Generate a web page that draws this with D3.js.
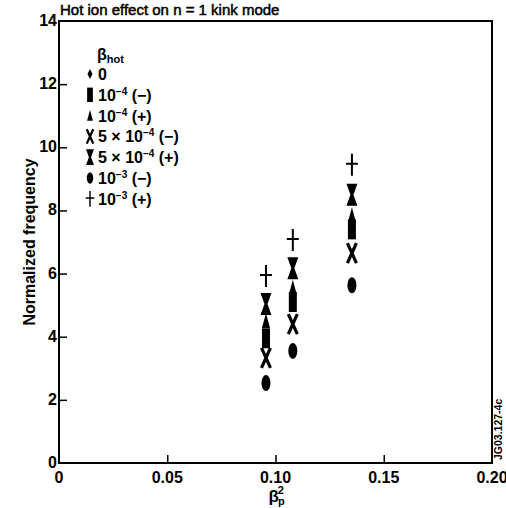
<!DOCTYPE html>
<html>
<head>
<meta charset="utf-8">
<script src="https://cdn.jsdelivr.net/npm/d3@7/dist/d3.min.js"></script>
<style>
  body { margin: 0; background: #fff; }
  text { font-family: "Liberation Sans", Arial, sans-serif; fill: #000; }
</style>
</head>
<body>
<div id="chart"></div>
<script>
// beta_p^2 positions of the three runs
var betaP2 = [0.0956, 0.108, 0.1353];

// normalized frequency for each beta_hot case
var freqZero = [3.95, 5.1, 7.4];
var freqE4Minus = [3.95, 5.1, 7.4];
var freqE4Plus = [4.5, 5.55, 7.85];
var freq5E4Minus = [3.33, 4.4, 6.65];
var freq5E4Plus = [5.04, 6.17, 8.5];
var freqE3Minus = [2.53, 3.55, 5.63];
var freqE3Plus = [5.92, 7.06, 9.45];

var xTicks = [0, 0.05, 0.10, 0.15, 0.20];
var xTickLabels = ["0", "0.05", "0.10", "0.15", "0.20"];
var yTicks = [0, 2, 4, 6, 8, 10, 12, 14];

var seriesNames = ["0", "10-4(-)", "10-4(+)", "5x10-4(-)", "5x10-4(+)", "10-3(-)", "10-3(+)"];
var seriesValues = [freqZero, freqE4Minus, freqE4Plus, freq5E4Minus, freq5E4Plus, freqE3Minus, freqE3Plus];
var seriesSymbols = ["diamond", "rect", "triangle", "cross", "hourglass", "ellipse", "plus"];

var w = 506, h = 508;
var margin = {top: 21, right: 14, bottom: 45, left: 59};

var svg = d3.select("#chart").append("svg")
    .attr("width", w)
    .attr("height", h);

var x = d3.scaleLinear().domain([0, 0.2]).range([margin.left, w - margin.right]);
var y = d3.scaleLinear().domain([0, 14]).range([h - margin.bottom, margin.top]);

// frame
svg.append("rect")
    .attr("x", x(0)).attr("y", y(14))
    .attr("width", x(0.2) - x(0)).attr("height", y(0) - y(14))
    .attr("fill", "none").attr("stroke", "#000").attr("stroke-width", 2);

// inward ticks
var xAxis = d3.axisTop(x).tickValues(xTicks.slice(1, -1)).tickSize(8).tickFormat("");
svg.append("g").attr("transform", "translate(0," + y(0) + ")").call(xAxis)
    .call(function (g) { g.select(".domain").remove(); })
    .selectAll("line").attr("stroke-width", 1.5);

var yAxis = d3.axisRight(y).tickValues(yTicks.slice(1, -1)).tickSize(8).tickFormat("");
svg.append("g").attr("transform", "translate(" + x(0) + ",0)").call(yAxis)
    .call(function (g) { g.select(".domain").remove(); })
    .selectAll("line").attr("stroke-width", 1.5);

// tick labels
svg.selectAll(".xlab").data(xTicks).enter().append("text")
    .attr("x", function (d) { return x(d); })
    .attr("y", y(0) + 20)
    .attr("text-anchor", "middle")
    .style("font-size", "16px").style("font-weight", "bold")
    .text(function (d, i) { return xTickLabels[i]; });

svg.selectAll(".ylab").data(yTicks).enter().append("text")
    .attr("x", x(0) - 2)
    .attr("y", function (d) { return y(d) + 5; })
    .attr("text-anchor", "end")
    .style("font-size", "16px").style("font-weight", "bold")
    .text(function (d) { return d; });

// title
svg.append("text")
    .attr("x", x(0) + 1).attr("y", 15)
    .style("font-size", "15px")
    .attr("stroke", "#000").attr("stroke-width", 0.5)
    .text("Hot ion effect on n = 1 kink mode");

// axis titles
svg.append("text")
    .attr("transform", "translate(35," + y(7) + ") rotate(-90)")
    .attr("text-anchor", "middle")
    .style("font-size", "16px").style("font-weight", "bold")
    .text("Normalized frequency");

var xt = svg.append("text")
    .attr("x", x(0.1) - 7).attr("y", 502)
    .style("font-size", "17px").style("font-weight", "bold");
xt.append("tspan").text("β");
xt.append("tspan").attr("dx", -1).attr("dy", 3).style("font-size", "11px").text("p");
xt.append("tspan").attr("dx", -7).attr("dy", -11).style("font-size", "11px").text("2");

svg.append("text")
    .attr("transform", "translate(502,460) rotate(-90)")
    .style("font-size", "10.5px").style("font-weight", "bold")
    .text("JG03.127-4c");

// marker shapes
function drawSymbol(g, kind, s) {
    if (kind == "diamond") {
        g.append("path").attr("d", "M0,-7L3.5,0L0,7L-3.5,0Z").attr("fill", "#000");
    } else if (kind == "rect") {
        g.append("rect").attr("x", -4).attr("y", -10).attr("width", 8).attr("height", 20).attr("fill", "#000");
    } else if (kind == "triangle") {
        g.append("path").attr("d", "M0,-8L4,7L-4,7Z").attr("fill", "#000");
    } else if (kind == "cross") {
        g.append("path").attr("d", "M-4.5,-10L4.5,10M4.5,-10L-4.5,10")
            .attr("stroke", "#000").attr("stroke-width", 3.2).attr("fill", "none");
    } else if (kind == "hourglass") {
        g.append("path").attr("d", "M-5.5,-11L5.5,-11L1.5,0L5.5,11L-5.5,11L-1.5,0Z").attr("fill", "#000");
    } else if (kind == "ellipse") {
        g.append("ellipse").attr("rx", 4.5).attr("ry", 8).attr("fill", "#000");
    } else if (kind == "plus") {
        g.append("path").attr("d", "M0,-11V11M-6,-1H6")
            .attr("stroke", "#000").attr("stroke-width", 2).attr("fill", "none");
    }
    g.attr("transform", g.attr("transform") + " scale(" + s + ")");
}

// data points
seriesValues.forEach(function (vals, si) {
    vals.forEach(function (v, i) {
        var g = svg.append("g").attr("transform", "translate(" + x(betaP2[i]) + "," + y(v) + ")");
        drawSymbol(g, seriesSymbols[si], 1);
    });
});

// legend
var legX = 90, legY = 74, legStep = 20.8;
var hdr = svg.append("text").attr("x", legX + 7).attr("y", 60)
    .style("font-size", "16px").style("font-weight", "bold");
hdr.append("tspan").text("β");
hdr.append("tspan").attr("dy", 3).style("font-size", "11px").text("hot");

seriesNames.forEach(function (name, i) {
    var cy = legY + i * legStep;
    var g = svg.append("g").attr("transform", "translate(" + legX + "," + cy + ")");
    drawSymbol(g, seriesSymbols[i], 0.72);

    var t = svg.append("text").attr("x", legX + 8).attr("y", cy + 6)
        .style("font-size", "16px").style("font-weight", "bold");
    var m = name.match(/^(5x)?(10)?(-\d)?(.*)$/);
    if (m[1]) t.append("tspan").text("5 × ");
    if (m[2]) {
        t.append("tspan").text("10");
        t.append("tspan").attr("dy", -6).style("font-size", "10px").text(m[3].replace("-", "−"));
        t.append("tspan").attr("dy", 6).text(" " + m[4].replace("-", "−"));
    } else {
        t.append("tspan").text(m[4]);
    }
});
</script>
</body>
</html>
